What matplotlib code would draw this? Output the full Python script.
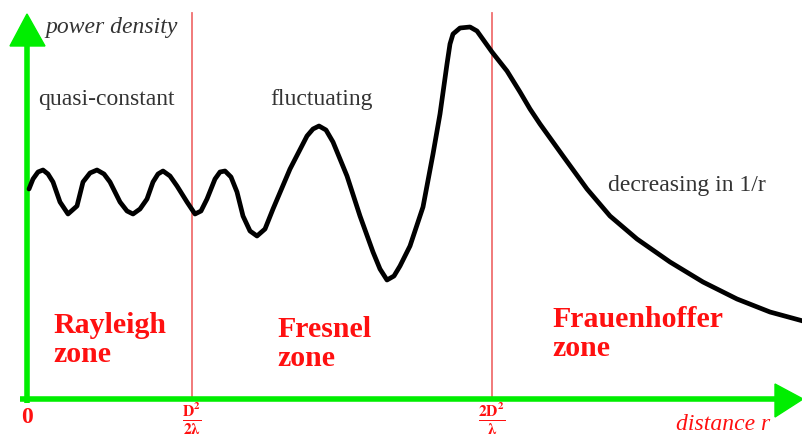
import matplotlib
matplotlib.use("Agg")
import matplotlib.pyplot as plt
from matplotlib.patches import Polygon

# power density curve (arbitrary units: r from the origin, p above the axis)
r = [2, 6, 11, 16, 21, 26, 33, 41, 50, 56, 63, 70, 77, 83, 93, 100, 106, 113, 120, 126,
     131, 136, 143, 150, 160, 168, 174, 180, 188, 193, 198, 204, 210, 216, 223,
     230, 238, 246, 263, 280, 286, 292, 299, 306, 320, 333, 346, 353, 360, 367,
     373, 383, 396, 406, 413, 420, 423, 426, 433, 443, 450, 465, 480, 493, 503,
     513, 536, 560, 583, 610, 643, 676, 710, 743, 776]
p = [210, 220, 227, 229, 225, 217, 197, 185, 193, 217, 226, 229, 225, 217, 197, 188, 185,
     190, 200, 217, 225, 228, 223, 213, 197, 185, 188, 200, 220, 227, 228, 222,
     207, 183, 168, 163, 170, 190, 230, 263, 270, 273, 269, 257, 223, 183, 147,
     130, 119, 123, 133, 153, 192, 245, 285, 335, 355, 365, 371, 372, 368, 347,
     328, 307, 290, 275, 243, 210, 183, 160, 137, 117, 100, 87, 78]

# zone boundaries and labels
boundaries = [165, 465]
boundary_labels = [r"$\mathbf{\frac{D^2}{2\lambda}}$", r"$\mathbf{\frac{2D^2}{\lambda}}$"]
zone_names = ["Rayleigh\nzone", "Fresnel\nzone", "Frauenhoffer\nzone"]
zone_xy = [(26, 60), (250, 56), (525, 66)]
behaviour = ["quasi-constant", "fluctuating", "decreasing in 1/r"]
behaviour_xy = [(11, 300), (243, 300), (581, 214)]

plt.rcParams["mathtext.fontset"] = "stix"
green = "#00ee00"
red = "#ff1010"
serif = "Liberation Serif"

fig = plt.figure(figsize=(8.03, 4.39), dpi=100)
ax = fig.add_axes([0, 0, 1, 1])
ax.set_xlim(-27, 776)
ax.set_ylim(-39, 400)
ax.axis("off")

# zone boundary lines
for b in boundaries:
    ax.plot([b, b], [0, 386], color="#f07070", lw=1.3, zorder=1)

# axes with arrow heads
ax.plot([-7, 750], [0, 0], color=green, lw=4, solid_capstyle="butt", zorder=2)
ax.plot([0, 0], [-4, 355], color=green, lw=4, solid_capstyle="butt", zorder=2)
ax.add_patch(Polygon([[748, 15], [776, 0], [748, -18]], closed=True, color=green, zorder=2))
ax.add_patch(Polygon([[-17, 353], [0, 385], [18, 353]], closed=True, color=green, zorder=2))

# curve
ax.plot(r, p, color="black", lw=3.4, solid_joinstyle="round", solid_capstyle="round", zorder=3)

# texts
ax.text(18, 372, "power density", fontsize=17, family=serif, style="italic",
        color="#333333", va="center", ha="left")
ax.text(743, -25, "distance r", fontsize=17, family=serif, style="italic",
        color=red, va="center", ha="right")
ax.text(0, -18, "0", fontsize=17, family=serif, weight="bold", color=red,
        va="center", ha="center")
for b, lab in zip(boundaries, boundary_labels):
    ax.text(b, -19, lab, fontsize=16, color=red, va="center", ha="center")
for (bx, by), txt in zip(behaviour_xy, behaviour):
    ax.text(bx, by, txt, fontsize=17, family=serif, color="#333333", va="center", ha="left")
for (zx, zy), name in zip(zone_xy, zone_names):
    ax.text(zx, zy, name, fontsize=21.5, family=serif, weight="bold", color=red,
            va="center", ha="left", linespacing=1.1)

fig.savefig("out.png", dpi=100, facecolor="white")
